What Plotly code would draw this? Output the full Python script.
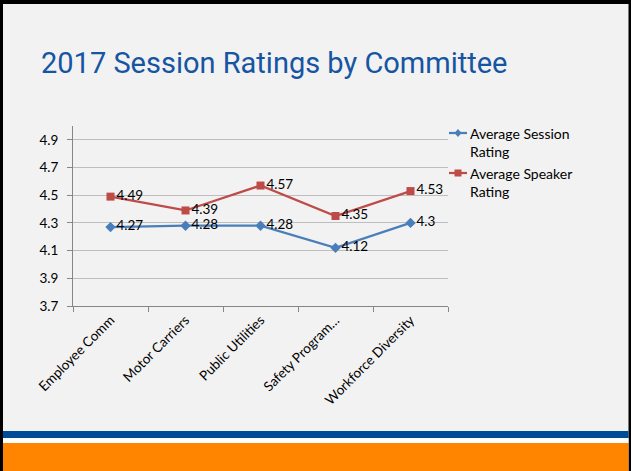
import plotly.graph_objects as go

categories = ["Employee Comm", "Motor Carriers", "Public Utilities", "Safety Program…", "Workforce Diversity"]
session_rating = [4.27, 4.28, 4.28, 4.12, 4.30]
speaker_rating = [4.49, 4.39, 4.57, 4.35, 4.53]
session_labels = ["4.27", "4.28", "4.28", "4.12", "4.3"]
speaker_labels = ["4.49", "4.39", "4.57", "4.35", "4.53"]
series_names = ["Average Session<br>Rating", "Average Speaker<br>Rating"]
y_ticks = [3.7, 3.9, 4.1, 4.3, 4.5, 4.7, 4.9]

W, H = 631, 471
L, R, T, B = 73, 448, 126, 306
BLUE = "#4A7EBB"
RED = "#BE4B48"
BG = "#F2F2F2"
FONT = "Lato, Open Sans, sans-serif"


def px_x(p):
    return (p - L) / (R - L)


def px_y(p):
    return (B - p) / (B - T)


fig = go.Figure()
fig.add_trace(go.Scatter(
    x=categories, y=session_rating, mode="lines+markers+text",
    text=session_labels, textposition="middle right",
    textfont=dict(family=FONT, size=13.5, color="#000000"),
    line=dict(color=BLUE, width=2.25),
    marker=dict(symbol="diamond", size=8, color=BLUE),
    name="Average Session Rating", showlegend=False, cliponaxis=False,
))
fig.add_trace(go.Scatter(
    x=categories, y=speaker_rating, mode="lines+markers+text",
    text=speaker_labels, textposition="middle right",
    textfont=dict(family=FONT, size=13.5, color="#000000"),
    line=dict(color=RED, width=2.25),
    marker=dict(symbol="square", size=8, color=RED),
    name="Average Speaker Rating", showlegend=False, cliponaxis=False,
))

shapes = []
# slide face (paper is black -> acts as the slide border)
shapes.append(dict(type="rect", xref="paper", yref="paper", x0=px_x(3), x1=px_x(628.5),
                   y0=px_y(H), y1=px_y(4), fillcolor=BG, line_width=0, layer="below"))
# bottom bands
shapes.append(dict(type="rect", xref="paper", yref="paper", x0=px_x(3), x1=px_x(628.5),
                   y0=px_y(438), y1=px_y(431), fillcolor="#004C97", line_width=0, layer="below"))
shapes.append(dict(type="rect", xref="paper", yref="paper", x0=px_x(3), x1=px_x(628.5),
                   y0=px_y(443), y1=px_y(438), fillcolor="#FFFFFF", line_width=0, layer="below"))
shapes.append(dict(type="rect", xref="paper", yref="paper", x0=px_x(3), x1=px_x(628.5),
                   y0=px_y(H), y1=px_y(443), fillcolor="#FF8500", line_width=0, layer="below"))

# legend (manual)
leg_y = [133, 173]
for i, (c, sym) in enumerate([(BLUE, "diamond"), (RED, "square")]):
    y = leg_y[i]
    shapes.append(dict(type="line", xref="paper", yref="paper", x0=px_x(449), x1=px_x(467),
                       y0=px_y(y), y1=px_y(y), line=dict(color=c, width=2.25)))
    if sym == "square":
        shapes.append(dict(type="rect", xref="paper", yref="paper", x0=px_x(454.5), x1=px_x(461.5),
                           y0=px_y(y + 3.5), y1=px_y(y - 3.5), fillcolor=c, line_width=0))
    else:
        cx, cy = 458, y
        path = "M {} {} L {} {} L {} {} L {} {} Z".format(
            px_x(cx), px_y(cy - 4), px_x(cx + 3.5), px_y(cy), px_x(cx), px_y(cy + 4), px_x(cx - 3.5), px_y(cy))
        shapes.append(dict(type="path", xref="paper", yref="paper", path=path, fillcolor=c, line_width=0))

annotations = []
for i, name in enumerate(series_names):
    annotations.append(dict(xref="paper", yref="paper", x=px_x(468), y=px_y(leg_y[i] - 10),
                            xanchor="left", yanchor="top", align="left", showarrow=False,
                            text=name, font=dict(family=FONT, size=14, color="#000000")))

fig.update_layout(
    width=W, height=H,
    margin=dict(l=L, r=W - R, t=T, b=H - B, pad=0),
    paper_bgcolor="#000000", plot_bgcolor=BG,
    shapes=shapes, annotations=annotations,
    title=dict(text="2017 Session Ratings by Committee", x=41 / W, xanchor="left",
               y=1 - 63 / H, yanchor="middle", xref="container", yref="container",
               font=dict(family="Roboto, sans-serif", size=29, color="#1655A2")),
    showlegend=False,
)
fig.update_xaxes(
    type="category", range=[-0.5, 4.5], showline=True, linecolor="#868686", linewidth=1,
    ticks="outside", tickson="boundaries", ticklen=5, tickcolor="#868686",
    tickangle=-45, tickfont=dict(family=FONT, size=13.5, color="#000000"),
    showgrid=False, zeroline=False,
)
fig.update_yaxes(
    range=[3.7, 5.0], tickvals=y_ticks, ticktext=[f"{v:.1f}" for v in y_ticks],
    showline=True, linecolor="#868686", linewidth=1,
    ticks="outside", ticklen=5, tickcolor="#868686", ticklabelstandoff=6,
    tickfont=dict(family=FONT, size=13.5, color="#000000"),
    showgrid=True, gridcolor="#BEBEBE", gridwidth=1, zeroline=False,
)

fig.write_html("out.html", config={"displayModeBar": False},
               post_script="document.body.style.margin='0';document.body.style.overflow='hidden';")
